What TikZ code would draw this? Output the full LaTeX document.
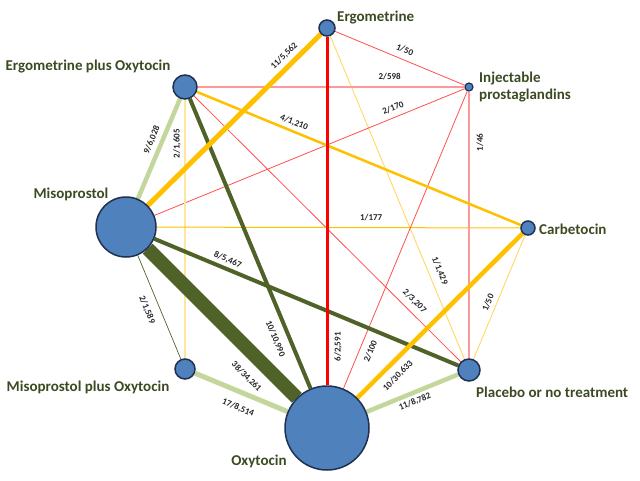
\documentclass[tikz,border=0pt]{standalone}
\usepackage{fontspec}
\setmainfont{Carlito}
\usetikzlibrary{backgrounds}
\definecolor{nodefill}{HTML}{4F81BD}
\definecolor{nodeedge}{HTML}{1F3050}
\definecolor{labcol}{HTML}{3C4A22}
\definecolor{olive}{HTML}{4F6228}
\definecolor{lgreen}{HTML}{C3D69B}
\definecolor{orng}{HTML}{FFC000}
\definecolor{lyel}{HTML}{FFD966}
\definecolor{pyel}{HTML}{FFE699}
\definecolor{tred}{HTML}{FF4F4F}
\definecolor{pink}{HTML}{FF9999}
\begin{document}
\begin{tikzpicture}[x=1pt,y=1pt,
  drug/.style={circle, draw=nodeedge, line width=1.5pt, fill=nodefill, inner sep=0pt},
  drugname/.style={text=labcol, font=\fontsize{15}{17}\selectfont\bfseries, inner sep=0pt},
  lbl/.style={sloped, font=\fontsize{9}{10}\selectfont\bfseries, text=black!85, inner sep=0pt, anchor=center},
]
\useasboundingbox (0,0) rectangle (640,-480);
% nodes
\node[drug, minimum size=16] (E) at (327,-28) {};
\node[drug, minimum size=8, line width=1.2pt] (IP) at (469,-87) {};
\node[drug, minimum size=24] (EO) at (185,-87) {};
\node[drug, minimum size=60] (M) at (126,-227) {};
\node[drug, minimum size=14] (C) at (528,-228) {};
\node[drug, minimum size=20] (MO) at (185,-369) {};
\node[drug, minimum size=22] (P) at (469,-370) {};
\node[drug, minimum size=84] (O) at (327,-428) {};
% names
\node[drugname, anchor=west] (tE) at (337,-18) {Ergometrine};
\node[drugname, align=left, anchor=west] (tIP) at (479,-87.5) {Injectable\\prostaglandins};
\node[drugname] (tEO) at (88,-67) {Ergometrine plus Oxytocin};
\node[drugname] (tM) at (71,-194) {Misoprostol};
\node[drugname, anchor=west] (tC) at (539,-229) {Carbetocin};
\node[drugname] (tMO) at (88,-387) {Misoprostol plus Oxytocin};
\node[drugname, anchor=west] (tP) at (476,-392) {Placebo or no treatment};
\node[drugname] (tO) at (259,-461) {Oxytocin};
% edges
\begin{pgfonlayer}{background}
\draw[tred, line width=0.8] (E) -- (IP) node[lbl, pos=0.51, yshift=9.7] {1/50};
\draw[lyel, line width=0.9] (E) -- (P) node[lbl, pos=0.74, yshift=11] {1/1,429};
\draw[pink, line width=1.3] (EO) -- (IP) node[lbl, pos=0.72, yshift=10] {2/598};
\draw[tred, line width=0.8] (M) -- (IP) node[lbl, pos=0.78, yshift=9.3] {2/170};
\draw[pyel, line width=1.2] (MO) -- (EO) node[lbl, pos=0.83, yshift=8] {2/1,605};
\draw[tred, line width=0.8] (EO) -- (P) node[lbl, pos=0.80, yshift=10.2] {2/3,207};
\draw[orng, line width=1] (M) -- (C) node[lbl, pos=0.59, yshift=9.6] {1/177};
\draw[olive, line width=0.7] (M) -- (MO) node[lbl, pos=0.48, yshift=-12.5] {2/1,589};
\draw[pink, line width=2] (P) -- (IP) node[lbl, pos=0.81, yshift=-11] {1/46};
\draw[tred, line width=0.8] (O) -- (IP) node[lbl, pos=0.14, yshift=-10.5] {2/100};
\draw[lyel, line width=0.9] (P) -- (C) node[lbl, pos=0.43, yshift=8.2] {1/50};
\draw[orng, line width=2.5] (EO) -- (C) node[lbl, pos=0.29, yshift=8.6] {4/1,210};
\draw[lgreen, line width=4.5] (M) -- (EO) node[lbl, pos=0.55, yshift=9.9] {9/6,028};
\draw[olive, line width=4] (EO) -- (O) node[lbl, pos=0.81, yshift=-13.4] {10/10,990};
\draw[olive, line width=4] (M) -- (P) node[lbl, pos=0.23, yshift=8.8] {8/5,467};
\draw[orng, line width=5] (M) -- (E) node[lbl, pos=0.83, yshift=10.3] {11/5,562};
\draw[olive, line width=14] (M) -- (O) node[lbl, pos=0.76, yshift=-20.5] {38/34,261};
\draw[lgreen, line width=5] (MO) -- (O) node[lbl, pos=0.53, yshift=-15.6] {17/8,514};
\draw[orng, line width=4.5] (O) -- (C) node[lbl, pos=0.19, yshift=-13.2] {10/30,633};
\draw[lgreen, line width=4.5] (O) -- (P) node[lbl, pos=0.49, yshift=-9] {11/8,782};
\draw[red, line width=3] (O) -- (E) node[lbl, pos=0.11, yshift=-11] {6/2,591};
\end{pgfonlayer}
\end{tikzpicture}
\end{document}
